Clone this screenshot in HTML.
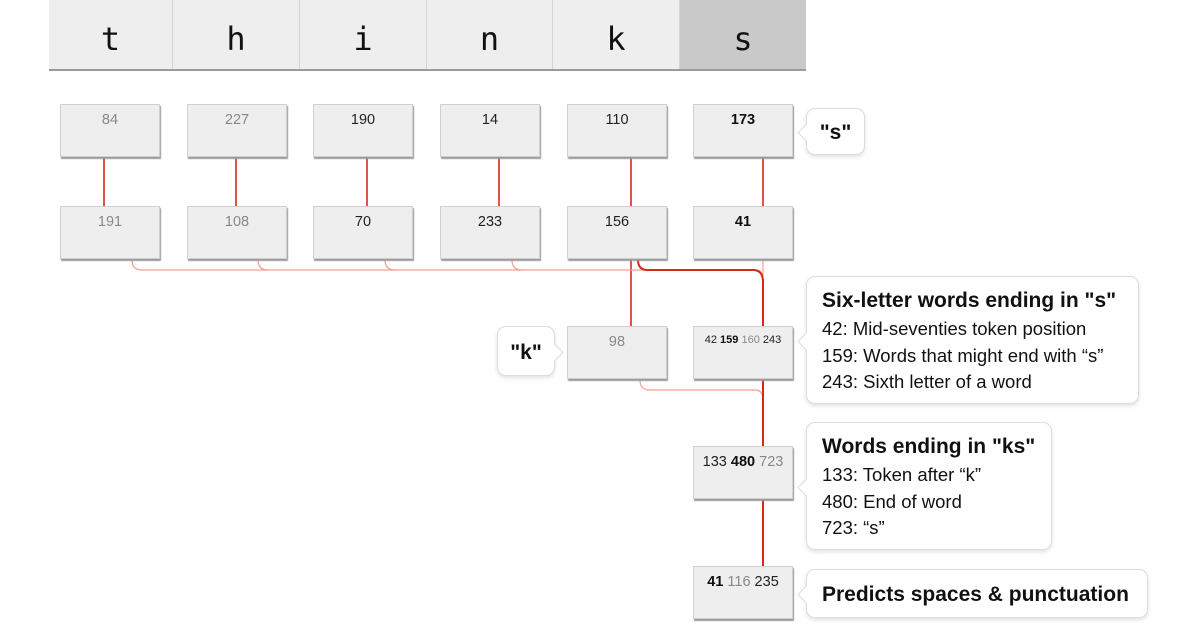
<!DOCTYPE html>
<html><head><meta charset="utf-8">
<style>
body{margin:0;width:1200px;height:630px;background:#fff;position:relative;overflow:hidden;font-family:"Liberation Sans",sans-serif}
.hc{position:absolute;top:0;height:69px;background:#eeeeee;border-right:1px solid #d4d4d4;box-sizing:border-box;font-family:"DejaVu Sans Mono","Liberation Mono",monospace;font-size:32px;color:#111;text-align:center;line-height:78px}
.box{position:absolute;width:100px;height:53px;background:#eeeeee;border:1px solid #d0d0d0;box-shadow:1px 2px 1px #9a9a9a;box-sizing:border-box;text-align:center;font-size:14.5px;padding-top:7px;color:#222}
.l{color:#888}.b{font-weight:bold;color:#111}
.call{position:absolute;background:#fff;border:1px solid #ddd;border-radius:9px;box-shadow:0 2px 4px rgba(0,0,0,.12);box-sizing:border-box;color:#111}
.call h{display:block;font-weight:bold;font-size:21px;margin-bottom:3px}
.call p{margin:0;font-size:18.5px;line-height:26.5px}
.pl:before{content:"";position:absolute;left:-7px;top:var(--t);width:12px;height:12px;background:#fff;border-left:1px solid #ddd;border-bottom:1px solid #ddd;transform:rotate(45deg)}
.pr:after{content:"";position:absolute;right:-7px;top:var(--t);width:12px;height:12px;background:#fff;border-right:1px solid #ddd;border-top:1px solid #ddd;transform:rotate(45deg)}
</style></head><body>
<div class="hc" style="left:49px;width:124px">t</div>
<div class="hc" style="left:173px;width:127px">h</div>
<div class="hc" style="left:300px;width:127px">i</div>
<div class="hc" style="left:427px;width:126px">n</div>
<div class="hc" style="left:553px;width:127px">k</div>
<div class="hc" style="left:680px;width:126px;background:#c9c9c9;border-right:none">s</div>
<div style="position:absolute;left:49px;top:69px;width:757px;height:2px;background:#9a9a9a"></div>

<svg width="1200" height="630" style="position:absolute;left:0;top:0" fill="none">
<g stroke="#d42a1a" stroke-width="1.6">
<line x1="104" y1="157" x2="104" y2="206"/><line x1="236" y1="157" x2="236" y2="206"/>
<line x1="367" y1="157" x2="367" y2="206"/><line x1="499" y1="157" x2="499" y2="206"/>
<line x1="631" y1="157" x2="631" y2="206"/><line x1="763" y1="157" x2="763" y2="206"/>
<line x1="631" y1="260" x2="631" y2="326"/>
</g>
<g stroke="#f2a090" stroke-width="1.2">
<path d="M132 260 Q132 270 142 270 H755 Q763 270 763 280"/>
<path d="M258 260 Q258 270 268 270"/>
<path d="M385 260 Q385 270 395 270"/>
<path d="M512 260 Q512 270 522 270"/>
<line x1="763" y1="260" x2="763" y2="276"/>
<path d="M640 380 Q640 390 650 390 H755 Q763 390 763 400"/>
</g>
<g stroke="#d42a1a" stroke-width="2">
<path d="M638 260 Q638 270 648 270 H753 Q763 270 763 282 V326"/>
<line x1="763" y1="380" x2="763" y2="446"/>
<line x1="763" y1="500" x2="763" y2="566"/>
</g>
</svg>

<div class="box" style="left:60px;top:104px"><span class="l">84</span></div>
<div class="box" style="left:187px;top:104px"><span class="l">227</span></div>
<div class="box" style="left:313px;top:104px">190</div>
<div class="box" style="left:440px;top:104px">14</div>
<div class="box" style="left:567px;top:104px">110</div>
<div class="box" style="left:693px;top:104px"><span class="b">173</span></div>

<div class="box" style="left:60px;top:206px"><span class="l">191</span></div>
<div class="box" style="left:187px;top:206px"><span class="l">108</span></div>
<div class="box" style="left:313px;top:206px">70</div>
<div class="box" style="left:440px;top:206px">233</div>
<div class="box" style="left:567px;top:206px">156</div>
<div class="box" style="left:693px;top:206px"><span class="b">41</span></div>

<div class="box" style="left:567px;top:326px"><span class="l">98</span></div>
<div class="box" style="left:693px;top:326px;font-size:11px;padding-top:7px">42 <span class="b">159</span> <span class="l">160</span> 243</div>
<div class="box" style="left:693px;top:446px">133 <span class="b">480</span> <span class="l">723</span></div>
<div class="box" style="left:693px;top:566px"><span class="b">41</span> <span class="l">116</span> 235</div>

<div class="call pl" style="left:806px;top:108px;width:59px;height:47px;--t:17px;font-weight:bold;font-size:21px;text-align:center;line-height:48px">"s"</div>
<div class="call pr" style="left:497px;top:326px;width:58px;height:50px;--t:19px;font-weight:bold;font-size:21px;text-align:center;line-height:52px">"k"</div>
<div class="call pl" style="left:806px;top:276px;width:333px;height:128px;--t:58px;padding:12px 0 0 15px">
<h>Six-letter words ending in "s"</h>
<p>42: Mid-seventies token position</p><p>159: Words that might end with “s”</p><p>243: Sixth letter of a word</p></div>
<div class="call pl" style="left:806px;top:422px;width:246px;height:128px;--t:58px;padding:12px 0 0 15px">
<h>Words ending in "ks"</h>
<p>133: Token after “k”</p><p>480: End of word</p><p>723: “s”</p></div>
<div class="call pl" style="left:806px;top:569px;width:342px;height:49px;--t:18px;padding:0 0 0 15px;font-weight:bold;font-size:21px;line-height:49px">Predicts spaces &amp; punctuation</div>
</body></html>
